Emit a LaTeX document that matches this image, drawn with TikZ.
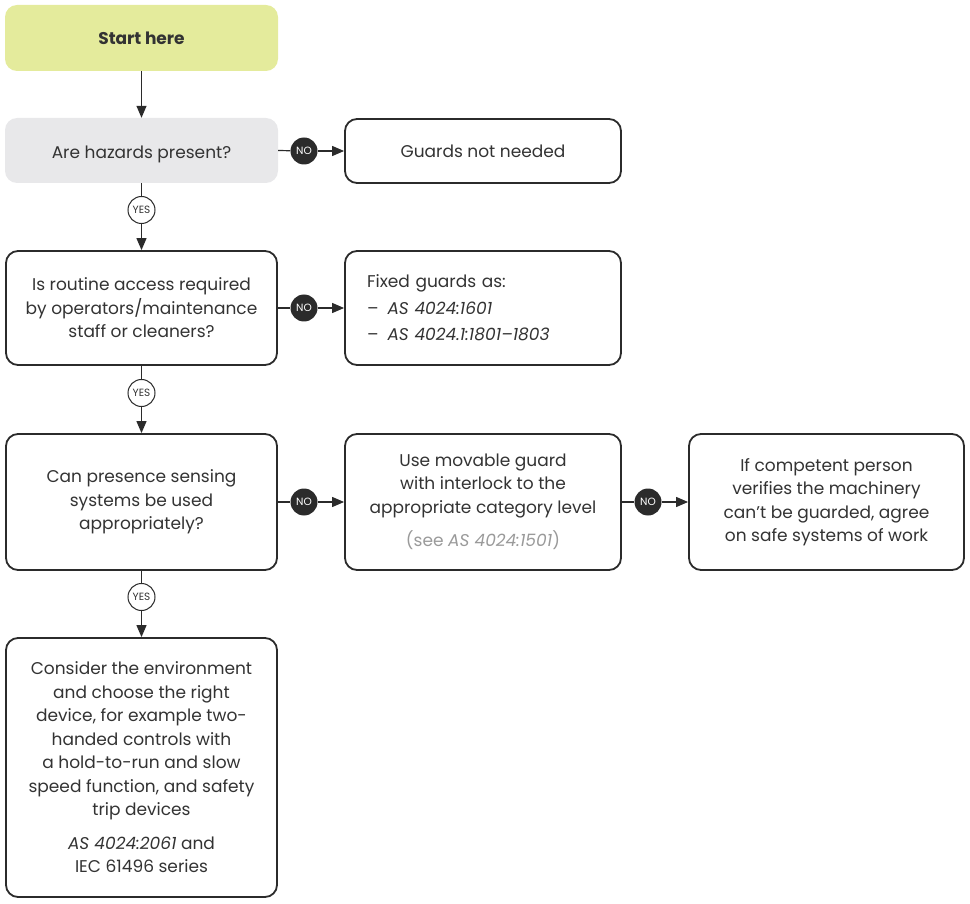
\documentclass[tikz,border=0pt]{standalone}
\usepackage{fontspec}
\setmainfont{Poppins}
\usetikzlibrary{arrows.meta}
\definecolor{txt}{HTML}{333333}
\definecolor{edge}{HTML}{2B2B2B}
\definecolor{startfill}{HTML}{E4EB9C}
\definecolor{qfill}{HTML}{E8E8EA}
\definecolor{greytxt}{HTML}{9A9A9A}
\begin{document}
\begin{tikzpicture}[x=1pt,y=-1pt,
  every node/.style={text=txt},
  base/.style={rounded corners=12pt, align=center, font=\fontsize{17}{23.5}\selectfont, inner sep=0pt},
  box/.style={base, draw=edge, line width=1.8pt, fill=white},
  filledbox/.style={base, draw=none},
  conn/.style={draw=edge, line width=1.2pt},
  arr/.style={conn, -{Triangle[length=12pt,width=10pt]}},
  nobadge/.style={circle, fill=edge, minimum size=27pt, inner sep=0pt, text=white, font=\fontsize{10.5}{11}\selectfont},
  yesbadge/.style={circle, draw=edge, line width=1pt, fill=white, minimum size=27pt, inner sep=0pt, font=\fontsize{10.5}{11}\selectfont}
]
\useasboundingbox (0,0) rectangle (970,904);

\node[filledbox, fill=startfill, minimum width=273pt, minimum height=66pt] (start) at (141.5,38) {\textbf{Start here}};
\node[filledbox, fill=qfill, minimum width=273pt, minimum height=65pt] (hazards) at (141.5,150.5) {\raisebox{-3.5pt}[\height][\depth]{Are hazards present?}};
\node[box, minimum width=276pt, minimum height=64pt] (notneeded) at (483,151) {Guards not needed};

\node[box, minimum width=271pt, minimum height=114pt] (routine) at (141.5,308) {Is routine access required\\by operators/maintenance\\staff or cleaners?};
\node[box, minimum width=276pt, minimum height=114pt, text width=232pt, inner xsep=22pt, align=left, font=\fontsize{17}{26.5}\selectfont] (fixed) at (483,308) {Fixed guards as:\\–\hspace{9pt}\textit{AS 4024:1601}\\–\hspace{9pt}\textit{AS 4024.1:1801–1803}};

\node[box, minimum width=271pt, minimum height=136pt] (presence) at (141.5,502) {Can presence sensing\\systems be used\\appropriately?};
\node[box, minimum width=276pt, minimum height=136pt] (movable) at (483,502) {Use movable guard\\with interlock to the\\appropriate category level\\[10pt]\textcolor{greytxt}{(see \textit{AS 4024:1501})}};
\node[box, minimum width=275pt, minimum height=136pt] (competent) at (826.5,502) {If competent person\\verifies the machinery\\can’t be guarded, agree\\on safe systems of work};

\node[box, minimum width=271pt, minimum height=259pt] (consider) at (141.5,767.5) {Consider the environment\\and choose the right\\device, for example two-\\handed controls with\\a hold-to-run and slow\\speed function, and safety\\trip devices\\[10pt]\textit{AS 4024:2061} and\\IEC 61496 series};

\node[yesbadge] (y1) at (141.5,210) {YES};
\node[yesbadge] (y2) at (141.5,393) {YES};
\node[yesbadge] (y3) at (141.5,597) {YES};
\node[nobadge] (n1) at (304,151) {NO};
\node[nobadge] (n2) at (304,308) {NO};
\node[nobadge] (n3) at (304,502) {NO};
\node[nobadge] (n4) at (648,502) {NO};

\draw[arr] (start) -- (hazards);
\draw[conn] (hazards) -- (y1);
\draw[arr] (y1) -- (routine);
\draw[conn] (routine) -- (y2);
\draw[arr] (y2) -- (presence);
\draw[conn] (presence) -- (y3);
\draw[arr] (y3) -- (consider);

\draw[conn] (hazards.east) -- (n1);
\draw[arr] (n1) -- (notneeded);
\draw[conn] (routine) -- (n2);
\draw[arr] (n2) -- (fixed);
\draw[conn] (presence) -- (n3);
\draw[arr] (n3) -- (movable);
\draw[conn] (movable) -- (n4);
\draw[arr] (n4) -- (competent);
\end{tikzpicture}
\end{document}
